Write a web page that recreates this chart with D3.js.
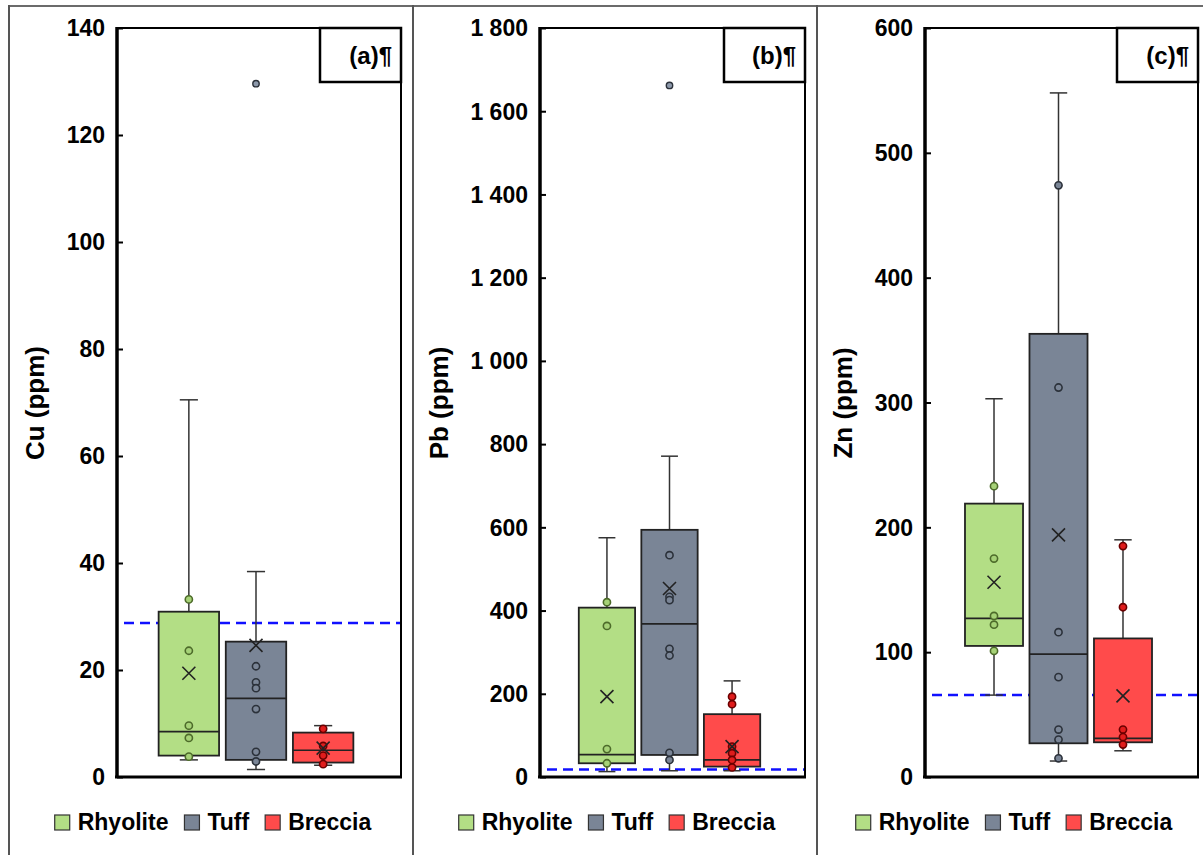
<!DOCTYPE html>
<html>
<head>
<meta charset="utf-8">
<script src="https://cdn.jsdelivr.net/npm/d3@7"></script>
<style>
  html, body { margin: 0; padding: 0; background: #fff; }
  svg { display: block; font-family: "Liberation Sans", Arial, sans-serif; }
</style>
</head>
<body>
<svg id="chart" width="1203" height="855"></svg>
<script>
// ---------------- data ----------------
const categories = ["Rhyolite", "Tuff", "Breccia"];
const panelLabels = ["(a)¶", "(b)¶", "(c)¶"];
const axisTitles = ["Cu (ppm)", "Pb (ppm)", "Zn (ppm)"];
const yMax = [140, 1800, 600];
const yStep = [20, 200, 100];

// Cu
const cuLow = [3.2, 1.4, 2.2];
const cuQ1 = [4.0, 3.2, 2.7];
const cuMedian = [8.5, 14.7, 5.0];
const cuQ3 = [30.9, 25.3, 8.3];
const cuHigh = [70.5, 38.4, 9.6];
const cuMean = [19.4, 24.6, 5.4];
const cuPoints = [[33.2, 23.6, 9.6, 7.3, 3.8], [20.7, 17.7, 16.6, 12.7, 4.7, 2.9], [9.0, 5.8, 4.0, 2.4]];
const cuOutliers = [[], [129.6], []];
const cuThreshold = 28.8;

// Pb
const pbLow = [13, 15, 15];
const pbQ1 = [33, 53, 25];
const pbMedian = [54, 368, 41];
const pbQ3 = [407, 594, 151];
const pbHigh = [575, 771, 231];
const pbMean = [193, 453, 73];
const pbPoints = [[420, 363, 67, 33], [533, 433, 425, 308, 292, 58, 41], [193, 175, 73, 57, 41, 23]];
const pbOutliers = [[], [1662], []];
const pbThreshold = 18;

// Zn
const znLow = [65.6, 12.8, 21];
const znQ1 = [105, 27, 27.8];
const znMedian = [127, 98.4, 31];
const znQ3 = [219, 355, 111];
const znHigh = [303, 548, 190];
const znMean = [156, 194, 65];
const znPoints = [[233, 175, 129, 122, 101], [474, 312, 116, 80, 38, 30, 15], [185, 136, 38, 32, 26]];
const znOutliers = [[], [], []];
const znThreshold = 65.6;

// ---------------- styles ----------------
const fills = ["#b3de85", "#7a8596", "#ff4b4b"];
const pointFills = ["#a6d277", "#7a8596", "#e01c1c"];
const pointStrokes = ["#4d6b2a", "#2b313a", "#6a0000"];

const stats = [
  {low: cuLow, q1: cuQ1, med: cuMedian, q3: cuQ3, high: cuHigh, mean: cuMean, pts: cuPoints, out: cuOutliers, thr: cuThreshold},
  {low: pbLow, q1: pbQ1, med: pbMedian, q3: pbQ3, high: pbHigh, mean: pbMean, pts: pbPoints, out: pbOutliers, thr: pbThreshold},
  {low: znLow, q1: znQ1, med: znMedian, q3: znQ3, high: znHigh, mean: znMean, pts: znPoints, out: znOutliers, thr: znThreshold}
];

const layout = [
  {px0: 9, px1: 413, left: 117, right: 401},
  {px0: 413, px1: 817, left: 540, right: 805},
  {px0: 817, px1: 1203, left: 925, right: 1198}
];
const plotTop = 28, plotBottom = 777;

const svg = d3.select("#chart");
const locale = d3.formatLocale({decimal: ",", thousands: " ", grouping: [3], currency: ["", ""]});
const fmt = locale.format(",");

// panel frame lines
svg.append("line").attr("x1", 9).attr("x2", 1203).attr("y1", 6).attr("y2", 6)
  .attr("stroke", "#6b6b6b").attr("stroke-width", 2);
[9, 413, 817].forEach(x => {
  svg.append("line").attr("x1", x).attr("x2", x).attr("y1", 5).attr("y2", 855)
    .attr("stroke", "#555").attr("stroke-width", 2);
});

layout.forEach((L, p) => {
  const S = stats[p];
  const g = svg.append("g");
  const y = d3.scaleLinear().domain([0, yMax[p]]).range([plotBottom, plotTop]);
  const x = d3.scaleBand().domain(categories).range([L.left, L.right - 6]).paddingInner(0.1).paddingOuter(0.62);
  const bw = x.bandwidth();
  const cx = c => x(c) + bw / 2;
  const capW = bw * 0.3;

  // threshold dashed line
  g.append("line")
    .attr("x1", L.left + 7).attr("x2", L.right)
    .attr("y1", y(S.thr)).attr("y2", y(S.thr))
    .attr("stroke", "#1010ff").attr("stroke-width", 2.5).attr("stroke-dasharray", "10,6");

  categories.forEach((c, i) => {
    const gc = g.append("g");
    const xc = cx(c);
    // whiskers
    gc.append("line").attr("x1", xc).attr("x2", xc).attr("y1", y(S.q3[i])).attr("y2", y(S.high[i]))
      .attr("stroke", "#333").attr("stroke-width", 1.5);
    gc.append("line").attr("x1", xc).attr("x2", xc).attr("y1", y(S.q1[i])).attr("y2", y(S.low[i]))
      .attr("stroke", "#333").attr("stroke-width", 1.5);
    gc.append("line").attr("x1", xc - capW / 2).attr("x2", xc + capW / 2).attr("y1", y(S.high[i])).attr("y2", y(S.high[i]))
      .attr("stroke", "#333").attr("stroke-width", 1.5);
    gc.append("line").attr("x1", xc - capW / 2).attr("x2", xc + capW / 2).attr("y1", y(S.low[i])).attr("y2", y(S.low[i]))
      .attr("stroke", "#333").attr("stroke-width", 1.5);
    // box
    gc.append("rect").attr("x", x(c)).attr("width", bw)
      .attr("y", y(S.q3[i])).attr("height", y(S.q1[i]) - y(S.q3[i]))
      .attr("fill", fills[i]).attr("stroke", "#222").attr("stroke-width", 1.8);
    // median
    gc.append("line").attr("x1", x(c)).attr("x2", x(c) + bw).attr("y1", y(S.med[i])).attr("y2", y(S.med[i]))
      .attr("stroke", "#222").attr("stroke-width", 1.7);
    // inner points
    gc.selectAll("circle.pt").data(S.pts[i]).enter().append("circle")
      .attr("class", "pt").attr("cx", xc).attr("cy", d => y(d)).attr("r", 3.6)
      .attr("fill", pointFills[i]).attr("stroke", pointStrokes[i]).attr("stroke-width", 1.6);
    // outliers
    gc.selectAll("circle.out").data(S.out[i]).enter().append("circle")
      .attr("class", "out").attr("cx", xc).attr("cy", d => y(d)).attr("r", 3.2)
      .attr("fill", "#8d99ab").attr("stroke", "#2b313a").attr("stroke-width", 1.4);
    // mean X
    const my = y(S.mean[i]), s = 6.5;
    gc.append("path")
      .attr("d", `M${xc - s},${my - s}L${xc + s},${my + s}M${xc - s},${my + s}L${xc + s},${my - s}`)
      .attr("stroke", "#222").attr("stroke-width", 1.6).attr("fill", "none");
  });

  // frame
  g.append("line").attr("x1", L.left).attr("x2", L.right).attr("y1", plotTop).attr("y2", plotTop).attr("stroke", "#000").attr("stroke-width", 2);
  g.append("line").attr("x1", L.right).attr("x2", L.right).attr("y1", plotTop).attr("y2", plotBottom).attr("stroke", "#000").attr("stroke-width", 2);
  g.append("line").attr("x1", L.left - 2).attr("x2", L.right + 1).attr("y1", plotBottom).attr("y2", plotBottom).attr("stroke", "#000").attr("stroke-width", 3);

  // y axis
  const ticks = d3.range(0, yMax[p] + 1e-9, yStep[p]);
  const ax = g.append("g").attr("transform", `translate(${L.left},0)`)
    .call(d3.axisRight(y).tickValues(ticks).tickSize(6).tickFormat(""));
  ax.select(".domain").attr("stroke", "#000").attr("stroke-width", 3.5).attr("d", `M0,${plotTop - 1}V${plotBottom + 1}`);
  ax.selectAll(".tick line").attr("stroke", "#000").attr("stroke-width", 2);
  g.selectAll("text.tl").data(ticks).enter().append("text").attr("class", "tl")
    .attr("x", L.left - 12).attr("y", d => y(d)).attr("dy", "0.36em")
    .attr("text-anchor", "end").attr("font-size", 23).attr("font-weight", "bold").attr("fill", "#000")
    .text(d => fmt(d));

  // y title
  g.append("text")
    .attr("transform", `translate(${L.px0 + 35},403) rotate(-90)`)
    .attr("text-anchor", "middle").attr("font-size", 26).attr("font-weight", "bold").attr("fill", "#000")
    .text(axisTitles[p]);

  // panel label box
  g.append("rect").attr("x", L.right - 81).attr("y", plotTop).attr("width", 81).attr("height", 54)
    .attr("fill", "#fff").attr("stroke", "#000").attr("stroke-width", 2.5);
  g.append("text").attr("x", L.right - 9).attr("y", plotTop + 36)
    .attr("text-anchor", "end").attr("font-size", 24).attr("font-weight", "bold").attr("fill", "#000")
    .text(panelLabels[p]);

  // legend
  const lg = g.append("g");
  let cur = 0;
  categories.forEach((c, i) => {
    lg.append("rect").attr("x", cur).attr("y", -15).attr("width", 15).attr("height", 15)
      .attr("fill", fills[i]).attr("stroke", "#333").attr("stroke-width", 1.2);
    const t = lg.append("text").attr("x", cur + 23).attr("y", 0)
      .attr("font-size", 23).attr("font-weight", "bold").attr("fill", "#000").text(c);
    cur += 23 + t.node().getComputedTextLength() + (i < categories.length - 1 ? 16 : 0);
  });
  const mid = (L.px0 + L.px1) / 2 + (p === 2 ? 4 : 2);
  lg.attr("transform", `translate(${mid - cur / 2},830)`);
});
</script>
</body>
</html>
